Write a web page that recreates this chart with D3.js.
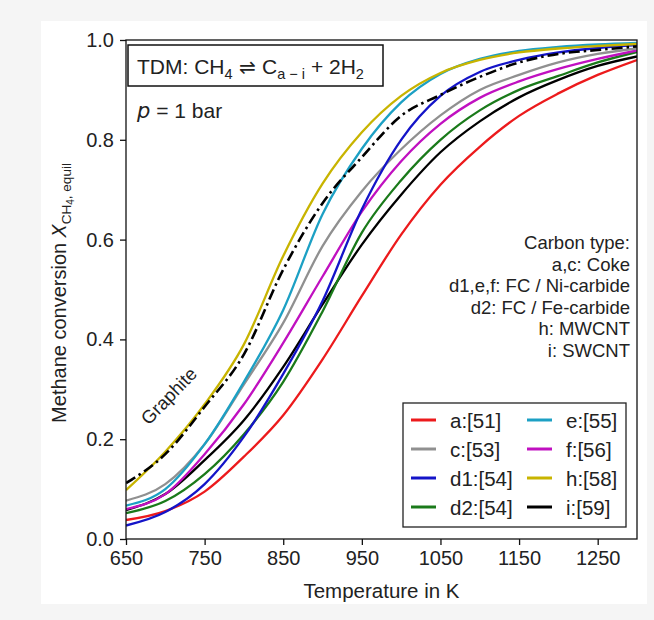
<!DOCTYPE html>
<html><head><meta charset="utf-8">
<script src="https://cdn.jsdelivr.net/npm/d3@7"></script>
<style>
body{margin:0;background:#f5f5f5;}
text{font-family:"Liberation Sans",Arial,sans-serif;fill:#222;}
</style></head>
<body>
<svg id="chart" width="654" height="620"></svg>
<script>
const temperatures = [650,700,750,800,850,900,950,1000,1050,1100,1150,1200,1250,1300];
const seriesA  = [0.038,0.056,0.095,0.165,0.248,0.36,0.487,0.61,0.71,0.786,0.848,0.893,0.93,0.96];
const seriesC  = [0.077,0.11,0.19,0.31,0.433,0.587,0.697,0.781,0.849,0.90,0.93,0.955,0.972,0.983];
const seriesD1 = [0.027,0.054,0.11,0.205,0.331,0.477,0.661,0.80,0.888,0.936,0.96,0.975,0.984,0.99];
const seriesD2 = [0.052,0.076,0.13,0.21,0.315,0.456,0.614,0.719,0.80,0.859,0.90,0.928,0.955,0.976];
const seriesE  = [0.067,0.10,0.19,0.315,0.459,0.651,0.782,0.875,0.932,0.962,0.978,0.986,0.991,0.994];
const seriesF  = [0.06,0.09,0.17,0.27,0.393,0.526,0.656,0.757,0.832,0.884,0.917,0.942,0.962,0.979];
const seriesH  = [0.098,0.175,0.27,0.39,0.567,0.712,0.815,0.888,0.934,0.96,0.975,0.983,0.988,0.992];
const seriesI  = [0.058,0.09,0.158,0.238,0.345,0.47,0.59,0.69,0.775,0.837,0.885,0.92,0.948,0.967];
const graphite = [0.112,0.17,0.265,0.37,0.54,0.673,0.765,0.848,0.89,0.926,0.955,0.972,0.98,0.987];

const legendLabels = ["a:[51]","c:[53]","d1:[54]","d2:[54]","e:[55]","f:[56]","h:[58]","i:[59]"];
const seriesColors = ["#ec1a1c","#909090","#1414c8","#1a7a1a","#1ca0c4","#c010c0","#c8b400","#000000"];
const xTicks = [650,750,850,950,1050,1150,1250];
const yTicks = [0,0.2,0.4,0.6,0.8,1.0];
const annotationLines = ["Carbon type:","a,c: Coke","d1,e,f: FC / Ni-carbide","d2: FC / Fe-carbide","h: MWCNT","i: SWCNT"];

const allSeries = [seriesA,seriesC,seriesD1,seriesD2,seriesE,seriesF,seriesH,seriesI];

const svg = d3.select("#chart");
const L=126,R=637,T=40,B=539;
svg.append("rect").attr("x",41).attr("y",21).attr("width",606).attr("height",583).attr("fill","#fff");

const x = d3.scaleLinear().domain([650,1300]).range([L,R]);
const y = d3.scaleLinear().domain([0,1]).range([B,T]);

const line = d3.line().x(d=>x(d[0])).y(d=>y(d[1])).curve(d3.curveMonotoneX);

svg.append("clipPath").attr("id","clip").append("rect")
  .attr("x",L).attr("y",T).attr("width",R-L).attr("height",B-T);
const plot = svg.append("g").attr("clip-path","url(#clip)");

const order = [0,7,3,5,1,2,4,6];
order.forEach(k=>{
  plot.append("path").datum(temperatures.map((t,j)=>[t,allSeries[k][j]]))
    .attr("d",line).attr("fill","none").attr("stroke",seriesColors[k])
    .attr("stroke-width",2.3).attr("stroke-linejoin","round");
});
plot.append("path").datum(temperatures.map((t,j)=>[t,graphite[j]]))
  .attr("d",line).attr("fill","none").attr("stroke","#000")
  .attr("stroke-width",2.6).attr("stroke-dasharray","11,4,2.5,4");

const xAxis = svg.append("g").attr("transform",`translate(0,${B})`)
  .call(d3.axisBottom(x).tickValues(xTicks).tickFormat(d3.format("d")).tickSize(6).tickPadding(6));
const yAxis = svg.append("g").attr("transform",`translate(${L},0)`)
  .call(d3.axisLeft(y).tickValues(yTicks).tickFormat(d3.format(".1f")).tickSize(6).tickPadding(6));
[xAxis,yAxis].forEach(a=>{
  a.select(".domain").remove();
  a.selectAll(".tick line").attr("stroke","#111").attr("stroke-width",1.3);
  a.selectAll(".tick text").attr("font-size",20).attr("fill","#222")
   .attr("font-family","'Liberation Sans',Arial,sans-serif");
});
svg.append("rect").attr("x",L).attr("y",T).attr("width",R-L).attr("height",B-T)
  .attr("fill","none").attr("stroke","#111").attr("stroke-width",1.3);

svg.append("text").attr("x",(L+R)/2).attr("y",598).attr("text-anchor","middle")
  .attr("font-size",20.5).text("Temperature in K");
const yl = svg.append("text").attr("transform",`translate(66,293) rotate(-90)`)
  .attr("text-anchor","middle").attr("font-size",20);
yl.append("tspan").text("Methane conversion ");
yl.append("tspan").attr("font-style","italic").attr("font-family","'DejaVu Sans',sans-serif").attr("font-size",19).text("X");
yl.append("tspan").attr("dy",5).attr("font-size",13.5).text("CH");
yl.append("tspan").attr("dy",3).attr("font-size",10).text("4");
yl.append("tspan").attr("dy",-3).attr("font-size",13.5).text(", equil");

svg.append("rect").attr("x",128).attr("y",45).attr("width",255).attr("height",41)
  .attr("fill","#fff").attr("stroke","#111").attr("stroke-width",1.5);
const tt = svg.append("text").attr("x",137).attr("y",74).attr("font-size",21);
tt.append("tspan").text("TDM: CH");
tt.append("tspan").attr("dy",5).attr("font-size",14.5).text("4");
tt.append("tspan").attr("dy",-5).attr("font-family","'DejaVu Sans',sans-serif").attr("font-size",20).text(" \u21CC ");
tt.append("tspan").text("C");
tt.append("tspan").attr("dy",5).attr("font-size",14.5).text("a \u2212 i");
tt.append("tspan").attr("dy",-5).text(" + 2H");
tt.append("tspan").attr("dy",5).attr("font-size",14.5).text("2");

const pt = svg.append("text").attr("x",137).attr("y",118).attr("font-size",21);
pt.append("tspan").attr("font-style","italic").attr("font-family","'DejaVu Sans',sans-serif").text("p");
pt.append("tspan").text(" = 1 bar");

svg.append("text").attr("transform","translate(170,397) rotate(-46)")
  .attr("text-anchor","middle").attr("dominant-baseline","middle")
  .attr("font-size",18.5).text("Graphite");

annotationLines.forEach((s,i)=>{
  svg.append("text").attr("text-anchor","end").attr("font-size",18.5)
    .attr("x",630).attr("y",249+i*21.5).text(s);
});

svg.append("rect").attr("x",403).attr("y",403).attr("width",223).attr("height",124)
  .attr("fill","#fff").attr("stroke","#222").attr("stroke-width",1.3);
legendLabels.forEach((lab,k)=>{
  const col = Math.floor(k/4), row = k%4;
  const lx = 411 + col*116, ly = 420 + row*29;
  svg.append("line").attr("x1",lx).attr("x2",lx+25).attr("y1",ly).attr("y2",ly)
    .attr("stroke",seriesColors[k]).attr("stroke-width",3);
  svg.append("text").attr("x",lx+39).attr("y",ly).attr("dominant-baseline","central")
    .attr("font-size",20.5).text(lab);
});
</script>
</body></html>
